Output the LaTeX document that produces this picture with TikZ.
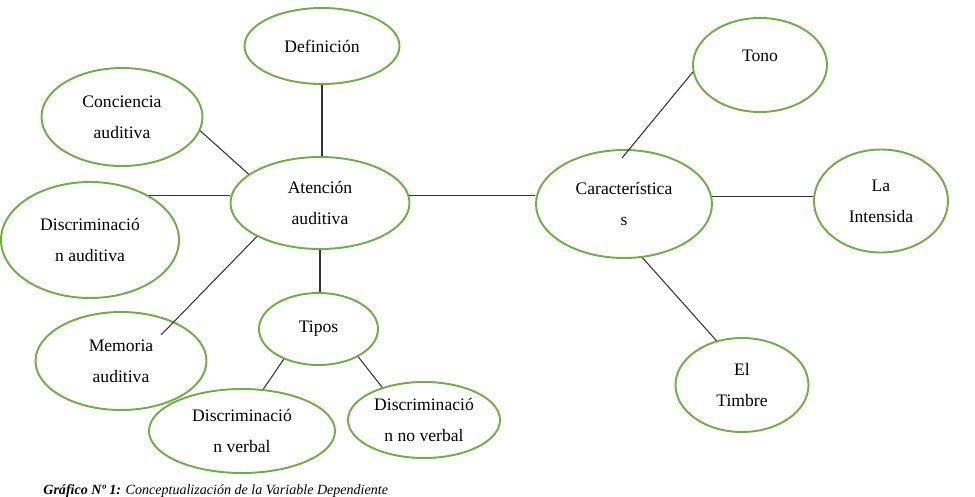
\documentclass[tikz,border=0pt]{standalone}
\usepackage{fontspec}
\setmainfont{Liberation Serif}
\usepackage{xcolor}
\usepackage{tikz}
\usetikzlibrary{shapes.geometric, calc}

\definecolor{bubgreen}{RGB}{112,173,71}

\begin{document}
\begin{tikzpicture}[
    every node/.style={font=\fontsize{10}{17.5}\selectfont},
    bub/.style={ellipse, draw=bubgreen, line width=1.1pt, inner sep=0pt,
                align=center},
    link/.style={black!80, line width=0.6pt},
  ]
    \useasboundingbox (0, 0) rectangle (19.5, -9.92);
    % centre of the map
    \node[bub, minimum width=3.58cm, minimum height=1.84cm] (atn) at (6.40, -4.06) {Atención\\auditiva};
    \node[bub, minimum width=3.10cm, minimum height=1.52cm] (defi) at (6.44, -0.92) {Definición};
    \node[bub, minimum width=3.22cm, minimum height=1.96cm] (conc) at (2.44, -2.34) {Conciencia\\auditiva};
    \node[bub, minimum width=3.56cm, minimum height=2.32cm] (disa) at (1.80, -4.80) {Discriminació\\n auditiva};
    \node[bub, minimum width=3.42cm, minimum height=1.96cm] (mem) at (2.42, -7.22) {Memoria\\auditiva};
    \node[bub, minimum width=2.38cm, minimum height=1.44cm] (tipos) at (6.37, -6.58) {Tipos};
    \node[bub, minimum width=3.72cm, minimum height=1.68cm] (dver) at (4.84, -8.62) {Discriminació\\n verbal};
    \node[bub, minimum width=3.04cm, minimum height=1.52cm] (dnv) at (8.48, -8.40) {Discriminació\\n no verbal};
    % right branch
    \node[bub, minimum width=3.52cm, minimum height=2.16cm] (car) at (12.48, -4.08) {Característica\\s};
    \node[bub, minimum width=2.68cm, minimum height=1.88cm, text depth=10pt] (tono) at (15.20, -1.30) {Tono};
    \node[bub, minimum width=2.68cm, minimum height=2.06cm] (inte) at (17.62, -4.02) {La\\Intensida};
    \node[bub, minimum width=2.66cm, minimum height=1.88cm] (timb) at (14.84, -7.70) {El\\Timbre};
    % connectors
    \draw[link] (defi.south) -- (defi.south |- atn.north);
    \draw[link] (conc.-10) -- (atn.158);
    \draw[link] (disa.37) -- (disa.37 -| atn.west);
    \draw[link] (atn.208) -- ([shift={(0.8, 0.52)}]mem.center);
    \draw[link] (atn.south) -- (atn.south |- tipos.north);
    \draw[link] (tipos.221) -- (dver.63);
    \draw[link] (tipos.-35) -- (dnv.142);
    \draw[link] (atn.5) -- (atn.5 -| car.west);
    \draw[link] ([shift={(-0.04, -0.18)}]car.north) -- (tono.186);
    \draw[link] (car.5) -- (car.5 -| inte.west);
    \draw[link] (car.-71) -- (timb.120);
    % caption
    \node[anchor=base west, inner sep=0pt, font=\fontsize{8}{9}\selectfont] (cap) at (0.86, -9.88)
      {\textbf{\textit{Gráfico Nº 1:}} \textit{Conceptualización de la Variable Dependiente}};
  \end{tikzpicture}
\end{document}
